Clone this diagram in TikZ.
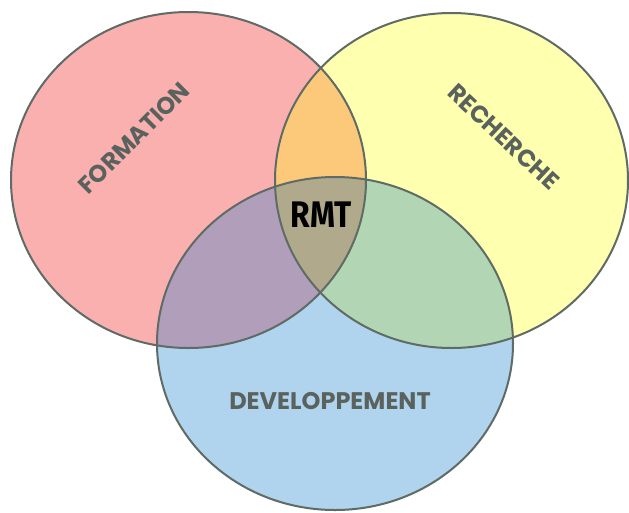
\documentclass[tikz,border=0pt]{standalone}
\usepackage{graphicx}
\usepackage{fontspec}
\setmainfont{Fira Sans}
\newfontfamily\lblfont{Poppins}
\definecolor{cred}{HTML}{FAB0AF}
\definecolor{cyel}{HTML}{FFFFB0}
\definecolor{cblue}{HTML}{B0D3EE}
\definecolor{cry}{HTML}{FCC87A}
\definecolor{crb}{HTML}{B19EBA}
\definecolor{cyb}{HTML}{B2D6B4}
\definecolor{call}{HTML}{B1A98C}
\definecolor{cline}{HTML}{5F6B65}
\definecolor{ctext}{HTML}{5A625E}
\tikzset{
  outline/.style={draw=cline, line width=2pt},
  lbl/.style={text=ctext, font=\lblfont\bfseries\fontsize{24}{26}\selectfont, inner sep=0pt},
}
\def\Red{(188.5,180) ellipse [x radius=177.5pt, y radius=168pt]}
\def\Yel{(451.5,180.5) ellipse [x radius=176.5pt, y radius=167.5pt]}
\def\Blu{(335,343.5) ellipse [x radius=178pt, y radius=166.5pt]}
\begin{document}
\begin{tikzpicture}[x=1pt,y=-1pt]
\useasboundingbox (0,0) rectangle (629,512);
\fill[white] (0,0) rectangle (629,512);
\fill[cred] \Red;
\fill[cyel] \Yel;
\fill[cblue] \Blu;
\begin{scope}\clip \Red; \fill[cry] \Yel; \end{scope}
\begin{scope}\clip \Red; \fill[crb] \Blu; \end{scope}
\begin{scope}\clip \Yel; \fill[cyb] \Blu; \end{scope}
\begin{scope}\clip \Red; \clip \Yel; \fill[call] \Blu; \end{scope}
\draw[outline] \Red;
\draw[outline] \Yel;
\draw[outline] \Blu;
\node[lbl, rotate=45] (formation) at (134,138) {FORMATION};
\node[lbl, rotate=-43] (recherche) at (504,137) {RECHERCHE};
\node[lbl] (dev) at (330,401) {DEVELOPPEMENT};
\node[lbl, text=black, font=\bfseries\fontsize{37}{39}\selectfont] (rmt) at (321,215) {\scalebox{0.86}[1]{RMT}};
\end{tikzpicture}
\end{document}
